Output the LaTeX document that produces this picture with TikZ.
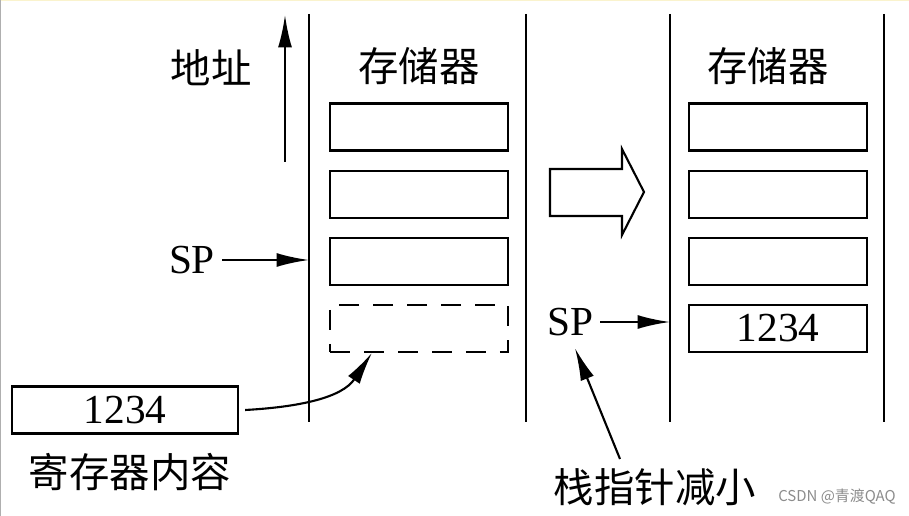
\documentclass[tikz,border=0pt]{standalone}
\usepackage{fontspec}
\setmainfont{Liberation Serif}
\newfontfamily\zhfamily{Noto Sans CJK SC}
\usetikzlibrary{calc,arrows.meta,positioning}
\definecolor{edgeyellow}{RGB}{250,243,205}
\definecolor{edgegray}{RGB}{175,175,175}
\tikzset{
  cell/.style={draw=black, line width=1.2pt, minimum width=3.56cm, minimum height=0.94cm,
    inner sep=0pt, font=\fontsize{23.5}{25}\selectfont},
  slot/.style={cell, dash pattern=on 0.4cm off 0.28cm},
  wall/.style={draw=black, line width=1.2pt},
  arr/.style={-{Latex[length=6.5mm,width=2.8mm]}, line width=1.2pt},
  zh/.style={font=\zhfamily\fontsize{23}{26}\selectfont, inner sep=0pt},
  lat/.style={font=\fontsize{23.5}{25}\selectfont, inner sep=4pt},
  wmark/.style={font=\zhfamily\fontsize{8.5}{10}\selectfont, text=black!45}
}
\begin{document}
\begin{tikzpicture}[x=0.02cm, y=-0.02cm, node distance=0.36cm]
  \useasboundingbox (0,0) rectangle (909,516);
  \draw[edgeyellow, line width=1.5pt] (0,0) -- (909,0);
  \draw[edgegray, line width=1pt] (0,0) -- (0,516);

  % address direction
  \node[zh] (addr) at (211,68) {地址};
  \coordinate (alow) at (285,162);
  \coordinate (ahigh) at (285,15);
  \draw[arr] (alow) -- (ahigh);

  % memory before the push
  \coordinate (lwl) at (309,14);
  \coordinate (lwr) at (526,14);
  \draw[wall] (lwl) -- ++(0,408);
  \draw[wall] (lwr) -- ++(0,408);
  \node[zh] (lmem) at (419,66) {存储器};
  \node[cell] (la) at (419,127) {};
  \node[cell, below=of la] (lb) {};
  \node[cell, below=of lb] (lc) {};
  \node[slot, below=of lc] (ld) {};

  \node[lat] (spl) at (192,260) {SP};
  \draw[arr] (spl.east) -- (spl.east -| lwl);

  % register that is pushed
  \node[cell, minimum width=4.52cm] (reg) at (125,410) {1234};
  \node[zh] (regname) at (130,472) {寄存器内容};
  \coordinate (ldt) at ($(ld.south west)+(43,0)$);
  \draw[arr] ([xshift=3.5pt]reg.east) .. controls ($(reg.east)+(60,-3)$) and ($(ldt)+(-30,45)$) .. (ldt);

  % hollow arrow between the two states
  \draw[line width=1.2pt, line join=miter] (550,169) -- (622,169) -- (622,149) -- (644,192)
    -- (622,235) -- (622,216) -- (550,216) -- cycle;

  % memory after the push
  \coordinate (rwl) at (670,14);
  \coordinate (rwr) at (884,14);
  \draw[wall] (rwl) -- ++(0,408);
  \draw[wall] (rwr) -- ++(0,408);
  \node[zh] (rmem) at (768,66) {存储器};
  \node[cell] (ra) at (778,127) {};
  \node[cell, below=of ra] (rb) {};
  \node[cell, below=of rb] (rc) {};
  \node[cell, below=of rc] (rd) {1234};

  \node[lat] (spr) at (570,322) {SP};
  \draw[arr] (spr.east) -- (spr.east -| rwl);

  \node[zh] (dec) at (655,487) {栈指针减小};
  \draw[arr] ($(dec.north)+(-35,-9)$) -- ($(spr.south)+(5,5)$);

  \node[wmark] (wm) at (837,497) {CSDN @青渡QAQ};
\end{tikzpicture}
\end{document}
